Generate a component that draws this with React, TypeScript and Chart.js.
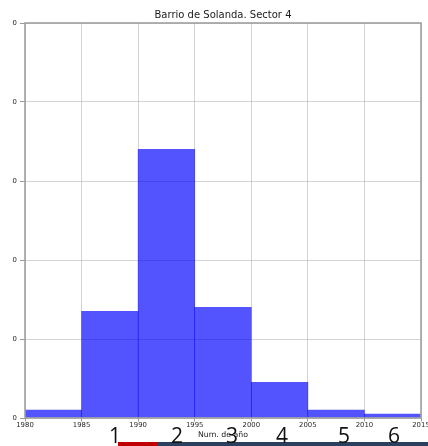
import React, { useEffect, useRef } from "react";
import { Chart, registerables } from "chart.js";

Chart.register(...registerables);

// ---- data ----
const binStarts = [1980, 1985, 1990, 1995, 2000, 2005, 2010];
const binWidth = 5;
const counts = [2, 27, 68, 28, 9, 2, 1];
const xMin = 1980;
const xMax = 2015;
const xStep = 5;
const yMin = 0;
const yMax = 100;
const yStep = 20;
const chartTitle = "Barrio de Solanda. Sector 4";
const xAxisTitle = "Num. de año";
const pageNumbers = ["1", "2", "3", "4", "5", "6"];

// ---- layout (screen px) ----
const pageNumberCenters = [115, 177, 232, 282, 344, 394];

const FONT = "'DejaVu Sans', sans-serif";

const boxPlugin = {
  id: "boxPlugin",
  afterDraw(chart: any) {
    const { ctx, chartArea } = chart;
    const { left, top, right, bottom } = chartArea;
    ctx.save();
    ctx.strokeStyle = "#a0a0a0";
    ctx.lineWidth = 1.6;
    ctx.strokeRect(left, top, right - left, bottom - top);
    ctx.restore();
  },
};

export default function App() {
  const canvasRef = useRef<HTMLCanvasElement | null>(null);

  useEffect(() => {
    if (!canvasRef.current) return;
    const data = binStarts.map((s, i) => ({ x: s + binWidth / 2, y: counts[i] }));
    const chart = new Chart(canvasRef.current, {
      type: "bar",
      data: {
        datasets: [
          {
            data: data as any,
            backgroundColor: "rgba(0,0,255,0.67)",
            borderWidth: 0,
            barPercentage: 1,
            categoryPercentage: 1,
            grouped: false,
          },
        ],
      },
      plugins: [boxPlugin],
      options: {
        responsive: false,
        animation: false,
        layout: { padding: { left: 0, right: 32, top: 0, bottom: 0 } },
        plugins: {
          legend: { display: false },
          tooltip: { enabled: false },
          title: {
            display: true,
            fullSize: false,
            text: chartTitle,
            color: "#1a1a1a",
            font: { family: FONT, size: 10, weight: "normal" },
            padding: { top: 9, bottom: 2 },
          },
        },
        scales: {
          x: {
            type: "linear",
            min: xMin,
            max: xMax,
            offset: false,
            z: 1,
            afterFit(scale: any) {
              scale.height = 28;
            },
            ticks: {
              stepSize: xStep,
              autoSkip: false,
              maxRotation: 0,
              padding: 0,
              color: "#2a2a2a",
              font: { family: FONT, size: 6.9 },
              callback: (v: any) => String(v),
            },
            grid: {
              offset: false,
              color: "rgba(170,170,170,0.5)",
              lineWidth: 1,
              drawTicks: true,
              tickLength: 3.5,
              tickColor: "#999",
            },
            border: { display: false },
            title: {
              display: true,
              text: xAxisTitle,
              color: "#222",
              font: { family: FONT, size: 7.8 },
              padding: { top: 0, bottom: 6 },
            },
          },
          y: {
            min: yMin,
            max: yMax,
            z: 1,
            afterFit(scale: any) {
              scale.width = 32;
            },
            ticks: {
              stepSize: yStep,
              padding: 3,
              color: "#2a2a2a",
              font: { family: FONT, size: 6.9 },
            },
            grid: {
              offset: false,
              color: "rgba(170,170,170,0.5)",
              lineWidth: 1,
              drawTicks: true,
              tickLength: 5,
              tickColor: "#999",
            },
            border: { display: false },
          },
        },
      } as any,
    });
    return () => chart.destroy();
  }, []);

  return (
    <div
      style={{
        position: "fixed",
        left: 0,
        top: 0,
        width: 428,
        height: 446,
        overflow: "hidden",
        background: "#fff",
      }}
    >
      <div
        style={{
          position: "absolute",
          left: 12,
          top: 0,
          width: 416,
          height: 446,
          overflow: "hidden",
        }}
      >
        <canvas
          ref={canvasRef}
          width={460}
          height={446}
          style={{ position: "absolute", left: -19, top: 0, width: 460, height: 446 }}
        />
      </div>
      <div
        style={{
          position: "absolute",
          left: 118,
          top: 442,
          width: 39,
          height: 4,
          background: "#c00000",
        }}
      />
      <div
        style={{
          position: "absolute",
          left: 157,
          top: 442,
          width: 271,
          height: 4,
          background: "#2b3f5f",
        }}
      />
      {pageNumbers.map((n, i) => (
        <span
          key={n}
          style={{
            position: "absolute",
            left: pageNumberCenters[i],
            top: 424.5,
            transform: "translateX(-50%)",
            fontFamily: "'Open Sans', sans-serif",
            fontSize: 21,
            lineHeight: "21px",
            color: "#111",
            whiteSpace: "nowrap",
          }}
        >
          {n}
        </span>
      ))}
    </div>
  );
}
